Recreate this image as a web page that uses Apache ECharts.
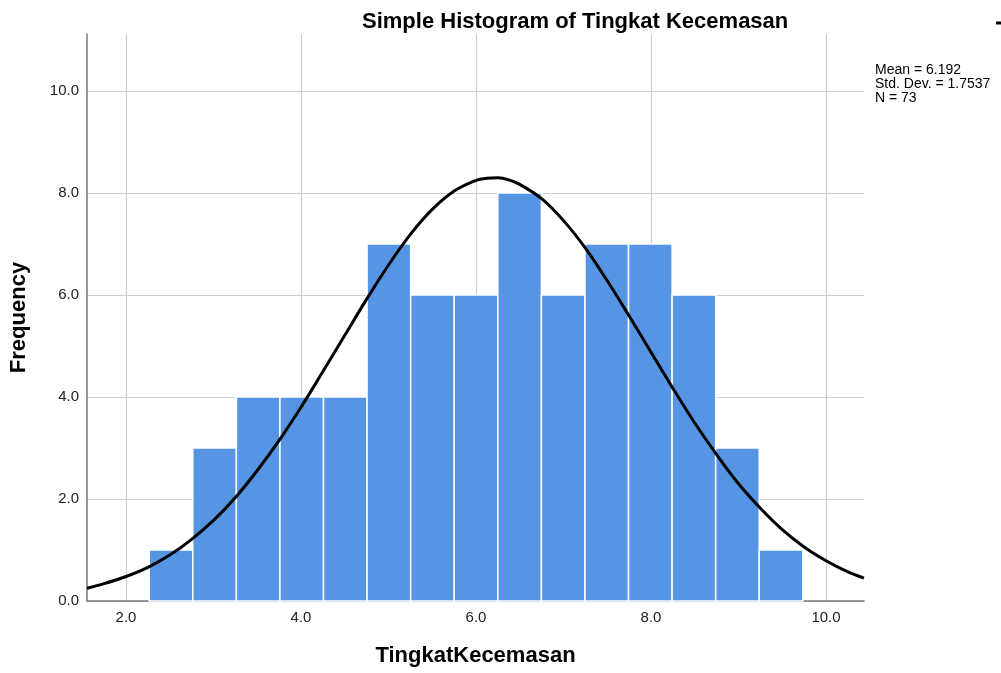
<!DOCTYPE html>
<html><head><meta charset="utf-8">
<script src="https://cdn.jsdelivr.net/npm/echarts@6/dist/echarts.min.js"></script>
<style>html,body{margin:0;padding:0;background:#fff}#c{width:1001px;height:673px}</style>
</head><body><div id="c"></div>
<script>
// Histogram bins: left edges and counts
var binEdges = [2.265, 2.763, 3.261, 3.759, 4.257, 4.755, 5.253, 5.751, 6.249, 6.747, 7.245, 7.743, 8.241, 8.739, 9.237, 9.735];
var counts = [1, 3, 4, 4, 4, 7, 6, 6, 8, 6, 7, 7, 6, 3, 1];
// Normal curve points
var curveX = [1.554, 1.75, 2.0, 2.25, 2.5, 2.75, 3.0, 3.25, 3.5, 3.75, 4.0, 4.25, 4.5, 4.75, 5.0, 5.25, 5.5, 5.75, 6.0, 6.125, 6.25, 6.375, 6.5, 6.75, 7.0, 7.25, 7.5, 7.75, 8.0, 8.25, 8.5, 8.75, 9.0, 9.25, 9.5, 9.75, 10.0, 10.25, 10.434];
var curveY = [0.25, 0.34, 0.48, 0.66, 0.90, 1.21, 1.58, 2.03, 2.56, 3.15, 3.80, 4.50, 5.21, 5.92, 6.59, 7.19, 7.68, 8.04, 8.25, 8.29, 8.30, 8.26, 8.17, 7.89, 7.46, 6.92, 6.28, 5.59, 4.88, 4.17, 3.49, 2.87, 2.30, 1.82, 1.40, 1.06, 0.79, 0.57, 0.45];
var xTicks = [2, 4, 6, 8, 10];
var yTicks = [0, 2, 4, 6, 8, 10];
var statsLines = ['Mean = 6.192', 'Std. Dev. = 1.7537', 'N = 73'];

var barData = counts.map(function (c, i) { return [binEdges[i], binEdges[i + 1], c]; });
var curveData = curveX.map(function (x, i) { return [x, curveY[i]]; });

var chart = echarts.init(document.getElementById('c'), null, {renderer: 'canvas'});
var font = 'Liberation Sans, Arial, sans-serif';
chart.setOption({
  animation: false,
  backgroundColor: '#fff',
  title: {
    text: 'Simple Histogram of Tingkat Kecemasan',
    left: 357, top: 6,
    textStyle: {fontFamily: font, fontSize: 22, fontWeight: 'bold', color: '#000'}
  },
  legend: {
    data: [{name: 'Normal', icon: 'rect'}],
    left: 991, top: 12, itemWidth: 16, itemHeight: 3,
    textStyle: {fontSize: 12, color: '#000'}
  },
  graphic: [{
    type: 'text', left: 875, top: 63,
    style: {text: statsLines.join('\n'), fontFamily: font, fontSize: 14, lineHeight: 14, fill: '#000'}
  }],
  grid: {left: 87, right: 137, top: 34, bottom: 72},
  xAxis: {
    type: 'value', min: 1.554, max: 10.434,
    name: 'TingkatKecemasan', nameLocation: 'middle', nameGap: 44,
    nameTextStyle: {fontFamily: font, fontSize: 22, fontWeight: 'bold', color: '#000'},
    axisLine: {show: true, onZero: false, lineStyle: {color: '#777', width: 1.5}},
    axisTick: {show: false, customValues: xTicks},
    axisLabel: {customValues: xTicks, margin: 9, fontFamily: font, fontSize: 15, color: '#222',
      formatter: function (v) { return v.toFixed(1); }},
    splitLine: {show: true, lineStyle: {color: '#cfcfcf', width: 1.2}}
  },
  yAxis: {
    type: 'value', min: 0, max: 11.12,
    name: 'Frequency', nameLocation: 'middle', nameGap: 57, nameRotate: 90,
    nameTextStyle: {fontFamily: font, fontSize: 22, fontWeight: 'bold', color: '#000'},
    axisLine: {show: true, lineStyle: {color: '#777', width: 1.5}},
    axisTick: {show: false, customValues: yTicks},
    axisLabel: {customValues: yTicks, margin: 8, fontFamily: font, fontSize: 15, color: '#222',
      formatter: function (v) { return v.toFixed(1); }},
    splitLine: {show: true, lineStyle: {color: '#cfcfcf', width: 1.2}}
  },
  series: [{
    type: 'custom',
    name: 'Histogram',
    data: barData,
    encode: {x: [0, 1], y: 2},
    renderItem: function (params, api) {
      var p0 = api.coord([api.value(0), 0]);
      var p1 = api.coord([api.value(1), api.value(2)]);
      return {
        type: 'rect',
        shape: {x: p0[0], y: p1[1], width: p1[0] - p0[0], height: p0[1] - p1[1]},
        style: {fill: '#5595e3', stroke: '#ffffff', lineWidth: 1.5}
      };
    },
    z: 2
  }, {
    type: 'line',
    name: 'Normal',
    data: curveData,
    smooth: 0.35,
    showSymbol: false,
    lineStyle: {color: '#000', width: 3},
    itemStyle: {color: '#000'},
    z: 3
  }]
});
</script></body></html>
